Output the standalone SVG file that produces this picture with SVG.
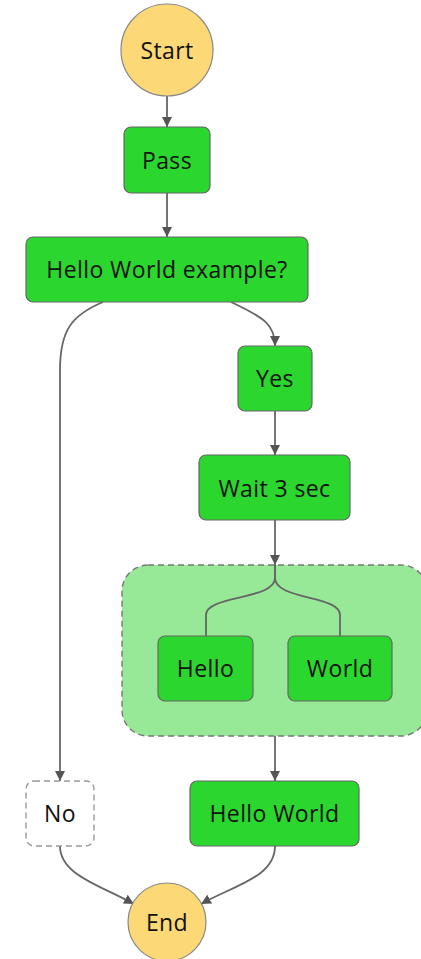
<svg xmlns="http://www.w3.org/2000/svg" width="421" height="959" viewBox="0 0 421 959">
<style>
.task{fill:#2bd62e;stroke:#666;stroke-width:1.2}
.term{fill:#fdd876;stroke:#888;stroke-width:1.2}
.lbl{font-family:"Open Sans","Liberation Sans",sans-serif;font-size:23px;letter-spacing:0.4px;fill:#111;text-anchor:middle}
.edge{fill:none;stroke:#666;stroke-width:1.8}
</style>
<defs>
<marker id="arr" viewBox="0 0 10 10" refX="10" refY="5" markerWidth="10" markerHeight="10" markerUnits="userSpaceOnUse" orient="auto">
<path d="M0,0 L10,5 L0,10 z" fill="#555"/>
</marker>
</defs>
<rect width="421" height="959" fill="#fff"/>
<g id="parallel">
<rect x="122" y="565" width="305" height="171" rx="26" fill="#97e897" stroke="#777" stroke-width="1.4" stroke-dasharray="6,4"/>
</g>
<g id="connectors">
<path class="edge" d="M167,96 L167,127" marker-end="url(#arr)"/>
<path class="edge" d="M167,193 L167,237" marker-end="url(#arr)"/>
<path class="edge" d="M231,302 C265,318 275,325 275,346" marker-end="url(#arr)"/>
<path class="edge" d="M103,302 C72,315 60,330 60,370 L60,781" marker-end="url(#arr)"/>
<path class="edge" d="M275,411 L275,455" marker-end="url(#arr)"/>
<path class="edge" d="M275,520 L275,565" marker-end="url(#arr)"/>
<path class="edge" d="M275,565 L275,578 C275,600 206,595 206,615 L206,636"/>
<path class="edge" d="M275,565 L275,578 C275,600 340,595 340,615 L340,636"/>
<path class="edge" d="M275,736 L275,781" marker-end="url(#arr)"/>
<path class="edge" d="M60,846 C60,875 100,885 134,904" marker-end="url(#arr)"/>
<path class="edge" d="M275,846 C275,877 235,885 201,904" marker-end="url(#arr)"/>
</g>
<g id="start"><circle class="term" cx="167" cy="50" r="46"/><text class="lbl" x="167" y="59">Start</text></g>
<g id="pass"><rect class="task" x="124" y="127" width="86" height="66" rx="7"/><text class="lbl" x="167" y="169">Pass</text></g>
<g id="choice"><rect class="task" x="26" y="237" width="282" height="65" rx="7"/><text class="lbl" x="167" y="278">Hello World example?</text></g>
<g id="yes"><rect class="task" x="238" y="346" width="74" height="65" rx="7"/><text class="lbl" x="275" y="387">Yes</text></g>
<g id="wait"><rect class="task" x="199" y="455" width="151" height="65" rx="7"/><text class="lbl" x="274.5" y="497">Wait 3 sec</text></g>
<g id="hello"><rect class="task" x="158" y="636" width="95" height="65" rx="7"/><text class="lbl" x="205.5" y="677">Hello</text></g>
<g id="world"><rect class="task" x="288" y="636" width="104" height="65" rx="7"/><text class="lbl" x="340" y="677">World</text></g>
<g id="no"><rect x="26" y="781" width="68" height="65" rx="8" fill="#fff" stroke="#999" stroke-width="1.4" stroke-dasharray="6,4"/><text class="lbl" x="60" y="822">No</text></g>
<g id="helloworld"><rect class="task" x="190" y="781" width="169" height="65" rx="7"/><text class="lbl" x="274.5" y="822">Hello World</text></g>
<g id="end"><circle class="term" cx="167" cy="922" r="39"/><text class="lbl" x="167" y="931">End</text></g>
</svg>
